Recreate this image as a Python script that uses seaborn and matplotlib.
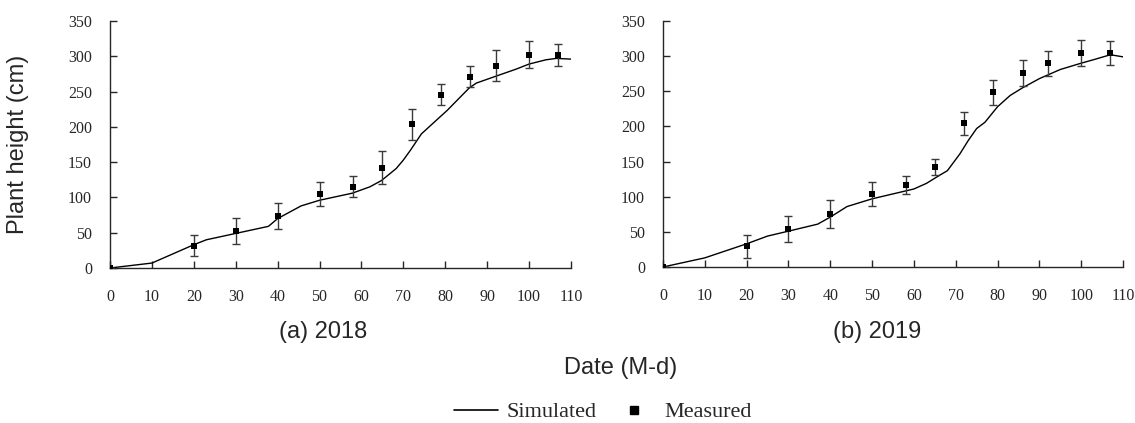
import numpy as np
import pandas as pd
import matplotlib
matplotlib.use('Agg')
import matplotlib.pyplot as plt
from matplotlib.lines import Line2D
import seaborn as sns

# =============================================================================
# Data
# =============================================================================

# measured plant height, days after sowing
meas_days = [0, 20, 30, 40, 50, 58, 65, 72, 79, 86, 92, 100, 107]

meas_2018 = [0, 31.5, 52.6, 73.8, 104.3, 115, 142.3, 203.4, 245.7, 271, 286.6, 302, 302]
err_2018 = [0, 15, 18, 19, 17, 15, 23, 22, 15, 15, 22, 19, 16]

meas_2019 = [0, 29.4, 54, 75.4, 103.9, 116.2, 142.3, 204.4, 248.5, 276, 289.8, 304.5, 304.5]
err_2019 = [0, 16, 18, 20, 17.5, 13, 12, 16.6, 18, 19, 18, 18.5, 16.6]

# simulated curves
sim_days_2018 = [0, 10, 20, 23, 30, 37.8, 40, 45.6, 50, 57.8, 62, 64.8, 68.3, 70,
                 71.7, 74.3, 77.8, 80.4, 85.7, 87.4, 91.7, 97, 100, 104, 106.5, 110]
sim_2018 = [0, 7, 33, 40, 49, 59, 70, 88, 96, 106, 115, 124, 141, 153,
            167, 190, 209, 223, 255, 262, 271, 282, 289, 295, 297, 296]

sim_days_2019 = [0, 10, 20, 25, 30, 37, 40, 44, 50, 55, 60, 63, 66, 68, 71, 73,
                 75, 77, 80, 83, 86, 90, 95, 100, 103, 107, 110]
sim_2019 = [0, 13, 33, 44, 51, 61, 71, 86, 97, 104, 111, 119, 130, 137, 161, 180,
            197, 206, 228, 244, 255, 268, 281, 290, 295, 302, 299]

panel_titles = ['(a) 2018', '(b) 2019']

# =============================================================================
# Plotting
# =============================================================================

sns.set_style('ticks')
plt.rcParams['font.family'] = ['Liberation Serif', 'DejaVu Serif']

fig = plt.figure(figsize=(11.35, 4.23), dpi=100)
ax1 = fig.add_axes([110 / 1135, 1 - 268 / 423, 461 / 1135, 247 / 423])
ax2 = fig.add_axes([663 / 1135, 1 - 267 / 423, 460 / 1135, 246 / 423])

panels = [
    (ax1, sim_days_2018, sim_2018, meas_2018, err_2018),
    (ax2, sim_days_2019, sim_2019, meas_2019, err_2019),
]

for ax, sd, sv, mv, me in panels:
    sim_df = pd.DataFrame({'day': sd, 'height': sv})
    meas_df = pd.DataFrame({'day': meas_days, 'height': mv, 'err': me})

    sns.lineplot(x='day', y='height', data=sim_df, ax=ax, color='black',
                 linewidth=1.0, sort=False, zorder=2)
    ax.errorbar(meas_df['day'], meas_df['height'], yerr=meas_df['err'],
                fmt='none', ecolor='#3a3a3a', elinewidth=1.0, capsize=3,
                capthick=1.0, zorder=3)
    sns.scatterplot(x='day', y='height', data=meas_df, ax=ax, marker='s',
                    color='black', s=24, linewidth=0, zorder=4)

    ax.set_xlim(0, 110)
    ax.set_ylim(0, 350)
    ax.set_xticks(np.arange(0, 111, 10))
    ax.set_yticks(np.arange(0, 351, 50))
    ax.set_xlabel('')
    ax.set_ylabel('')
    sns.despine(ax=ax)
    ax.spines['left'].set_linewidth(1.0)
    ax.spines['bottom'].set_linewidth(1.0)
    ax.tick_params(axis='x', direction='in', length=5, width=1, pad=15, labelsize=11.5)
    ax.tick_params(axis='y', direction='in', length=5, width=1, pad=13, labelsize=11.5)

# panel titles and shared labels
fig.text(323 / 1135, 1 - 332 / 423, panel_titles[0], ha='center', va='center',
         fontsize=17, family='Liberation Sans')
fig.text(877 / 1135, 1 - 332 / 423, panel_titles[1], ha='center', va='center',
         fontsize=17, family='Liberation Sans')
fig.text(621 / 1135, 1 - 368 / 423, 'Date (M-d)', ha='center', va='center',
         fontsize=17, family='Liberation Sans')
fig.text(18 / 1135, 1 - 144 / 423, 'Plant height (cm)', ha='center', va='center',
         rotation=90, fontsize=17, family='Liberation Sans')

handles = [
    Line2D([0], [0], color='black', linewidth=1.2),
    Line2D([0], [0], color='black', marker='s', linestyle='none', markersize=6),
]
fig.legend(handles, ['Simulated', 'Measured'], loc='center',
           bbox_to_anchor=(603 / 1135, 1 - 412 / 423), ncol=2, frameon=False,
           fontsize=16, handlelength=1.95, handletextpad=0.4, columnspacing=0.7,
           borderpad=0)

fig.savefig('out.png', dpi=100)
